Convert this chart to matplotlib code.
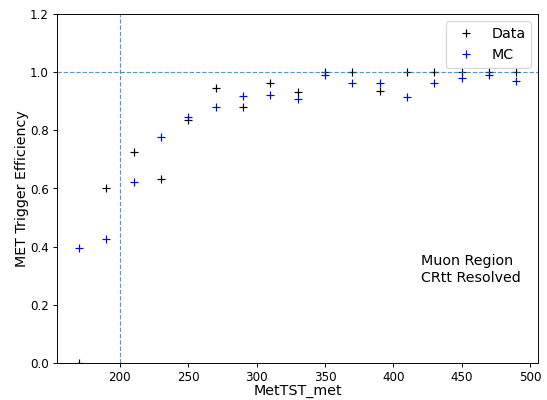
import matplotlib
matplotlib.use("Agg")
import matplotlib.pyplot as plt

met_bins = [170, 190, 210, 230, 250, 270, 290, 310, 330, 350, 370, 390, 410, 430, 450, 470, 490]
eff_data = [0.0, 0.60, 0.724, 0.632, 0.836, 0.945, 0.880, 0.963, 0.932, 1.0, 1.0, 0.934, 1.0, 1.0, 1.0, 1.0, 1.0]
eff_mc = [0.395, 0.425, 0.621, 0.778, 0.845, 0.880, 0.917, 0.922, 0.908, 0.99, 0.963, 0.963, 0.915, 0.963, 0.981, 0.99, 0.970]

fig = plt.figure(figsize=(6.4, 4.68), dpi=85.5)
fig.subplots_adjust(left=57 / 547, right=538 / 547, bottom=37 / 400, top=386 / 400)
ax = fig.add_subplot(111)

ax.plot(met_bins, eff_data, linestyle='none', marker='+', color='black', label='Data')
ax.plot(met_bins, eff_mc, linestyle='none', marker='+', color='blue', label='MC')

# trigger plateau and threshold
ax.axhline(1.0, color='C0', linestyle='--', linewidth=1, alpha=0.75)
ax.axvline(200, color='C0', linestyle='--', linewidth=1, alpha=0.75)

ax.set_ylim(0, 1.2)
ax.set_xlabel('MetTST_met', fontsize=12, labelpad=0)
ax.set_ylabel('MET Trigger Efficiency', fontsize=12, labelpad=0.5)

ax.text(420, 0.27, 'Muon Region\nCRtt Resolved', fontsize=12, va='bottom', ha='left')
ax.legend(loc='upper right', fontsize=12)

fig.savefig('out.png', dpi=85.5)
